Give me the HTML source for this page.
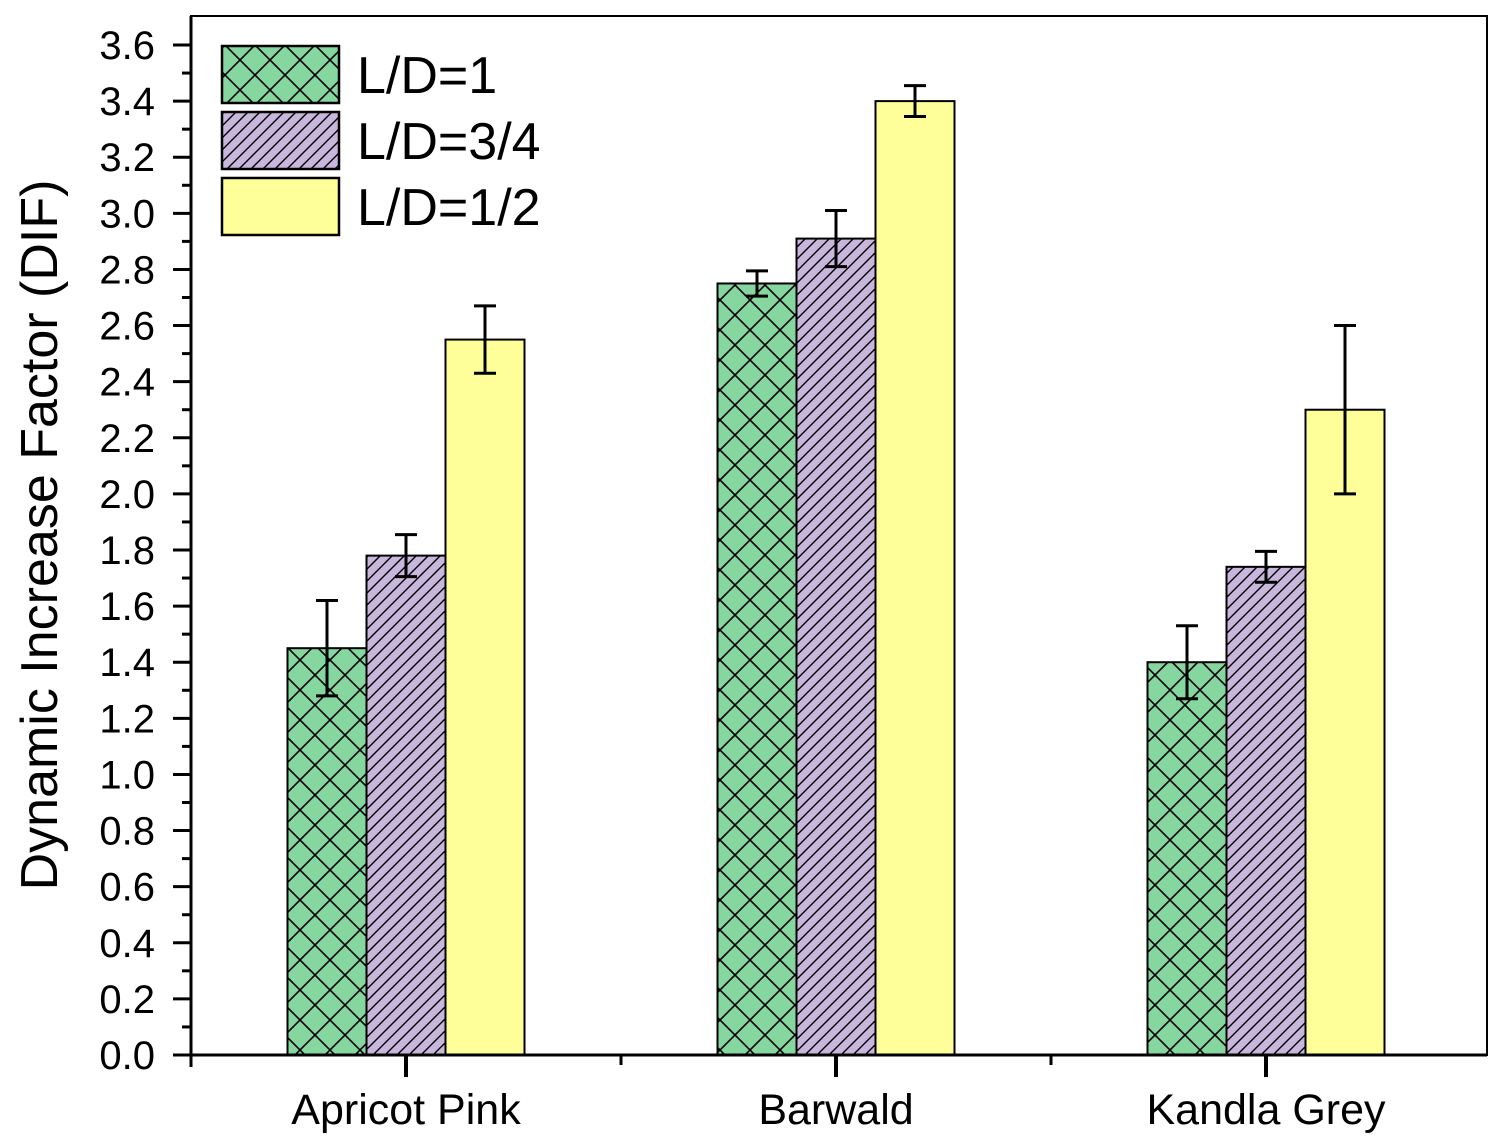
<!DOCTYPE html>
<html><head><meta charset="utf-8"><style>
html,body{margin:0;padding:0;background:#fff;}
svg{display:block;font-family:"Liberation Sans",Arial,sans-serif;}
</style></head><body>
<svg id="chart" width="1496" height="1148" viewBox="0 0 1496 1148" xmlns="http://www.w3.org/2000/svg">
<defs>
<pattern id="cross" patternUnits="userSpaceOnUse" width="30" height="30">
<rect width="30" height="30" fill="#86d6a0"/>
<path d="M0,0 L30,30 M30,0 L0,30" stroke="#000" stroke-width="1.6"/>
</pattern>
<pattern id="diag" patternUnits="userSpaceOnUse" width="12" height="12">
<rect width="12" height="12" fill="#c8b6dc"/>
<path d="M-3,3 L3,-3 M0,12 L12,0 M9,15 L15,9" stroke="#000" stroke-width="1.4"/>
</pattern>
</defs>
<g id="plot"></g>
</svg>
<script>
const categories = ["Apricot Pink","Barwald","Kandla Grey"];
const seriesNames = ["L/D=1","L/D=3/4","L/D=1/2"];
const valsLD1 = [1.45, 2.75, 1.40];
const valsLD34 = [1.78, 2.91, 1.74];
const valsLD12 = [2.55, 3.40, 2.30];
const errLD1 = [0.17, 0.045, 0.13];
const errLD34 = [0.075, 0.10, 0.055];
const errLD12 = [0.12, 0.055, 0.30];
const yTicks = ["0.0","0.2","0.4","0.6","0.8","1.0","1.2","1.4","1.6","1.8","2.0","2.2","2.4","2.6","2.8","3.0","3.2","3.4","3.6"];

const NS="http://www.w3.org/2000/svg";
const g=document.getElementById('plot');
const X0=191, X1=1487, Y0=1055, YT=16;
const yMax=3.6, yTop=45;
function y(v){return Y0-(v/yMax)*(Y0-yTop);}
const groupW=430;
function gx(i){return X0+groupW*(i+0.5);}
const barW=79;
function mk(tag,attrs){const e=document.createElementNS(NS,tag);for(const k in attrs)e.setAttribute(k,attrs[k]);g.appendChild(e);return e;}

const series=[
 {vals:valsLD1,errs:errLD1,fill:"url(#cross)"},
 {vals:valsLD34,errs:errLD34,fill:"url(#diag)"},
 {vals:valsLD12,errs:errLD12,fill:"#ffff99"}];

series.forEach((s,si)=>{
 s.vals.forEach((v,ci)=>{
  const cx=gx(ci)+(si-1)*barW;
  const r=mk('rect',{x:cx-barW/2,y:y(v),width:barW,height:Y0-y(v),fill:s.fill,stroke:'#000','stroke-width':2});
  
  
 });
});
series.forEach((s,si)=>{
 s.vals.forEach((v,ci)=>{
  const cx=gx(ci)+(si-1)*barW;
  const hi=y(v+s.errs[ci]), lo=y(v-s.errs[ci]);
  const e=mk('path',{d:`M${cx},${hi}V${lo}M${cx-11},${hi}H${cx+11}M${cx-11},${lo}H${cx+11}`,stroke:'#000','stroke-width':3,fill:'none'});
  
  
 });
});

const fr=mk('rect',{x:X0,y:YT,width:X1-X0,height:Y0-YT,fill:'none',stroke:'#000','stroke-width':2});


const ya=mk('line',{x1:X0,y1:YT,x2:X0,y2:Y0+12,stroke:'#000','stroke-width':3});


const xa=mk('line',{x1:X0-18,y1:Y0,x2:X1,y2:Y0,stroke:'#000','stroke-width':3});



yTicks.forEach((t,i)=>{
 const v=parseFloat(t), yy=y(v);
 mk('line',{x1:X0-18,y1:yy,x2:X0,y2:yy,stroke:'#000','stroke-width':3});
 if(i<yTicks.length-1){const ym=y(v+0.1);mk('line',{x1:X0-9,y1:ym,x2:X0,y2:ym,stroke:'#000','stroke-width':3});}
 const tx=mk('text',{x:155,y:yy+14,'text-anchor':'end','font-size':40,fill:'#000'});
 tx.textContent=t;
 
 
});
categories.forEach((c,i)=>{
 const xx=gx(i);
 mk('line',{x1:xx,y1:Y0,x2:xx,y2:Y0+22,stroke:'#000','stroke-width':4});
 if(i<categories.length-1){const xm=X0+groupW*(i+1);mk('line',{x1:xm,y1:Y0,x2:xm,y2:Y0+10,stroke:'#000','stroke-width':3});}
 const tx=mk('text',{x:xx,y:1124,'text-anchor':'middle','font-size':43,fill:'#000'});
 tx.textContent=c;
 
 
});
const yt=mk('text',{x:0,y:0,transform:'translate(57,535) rotate(-90)','text-anchor':'middle','font-size':52,fill:'#000'});
yt.textContent='Dynamic Increase Factor (DIF)';



const fills=["url(#cross)","url(#diag)","#ffff99"];
seriesNames.forEach((n,i)=>{
 const ly=46+i*66;
 const r=mk('rect',{x:222,y:ly,width:117,height:57,fill:fills[i],stroke:'#000','stroke-width':2.5});
 
 
 const tx=mk('text',{x:357,y:ly+47,'font-size':52,fill:'#000'});
 tx.textContent=n;
 
 
});
</script>
</body></html>
